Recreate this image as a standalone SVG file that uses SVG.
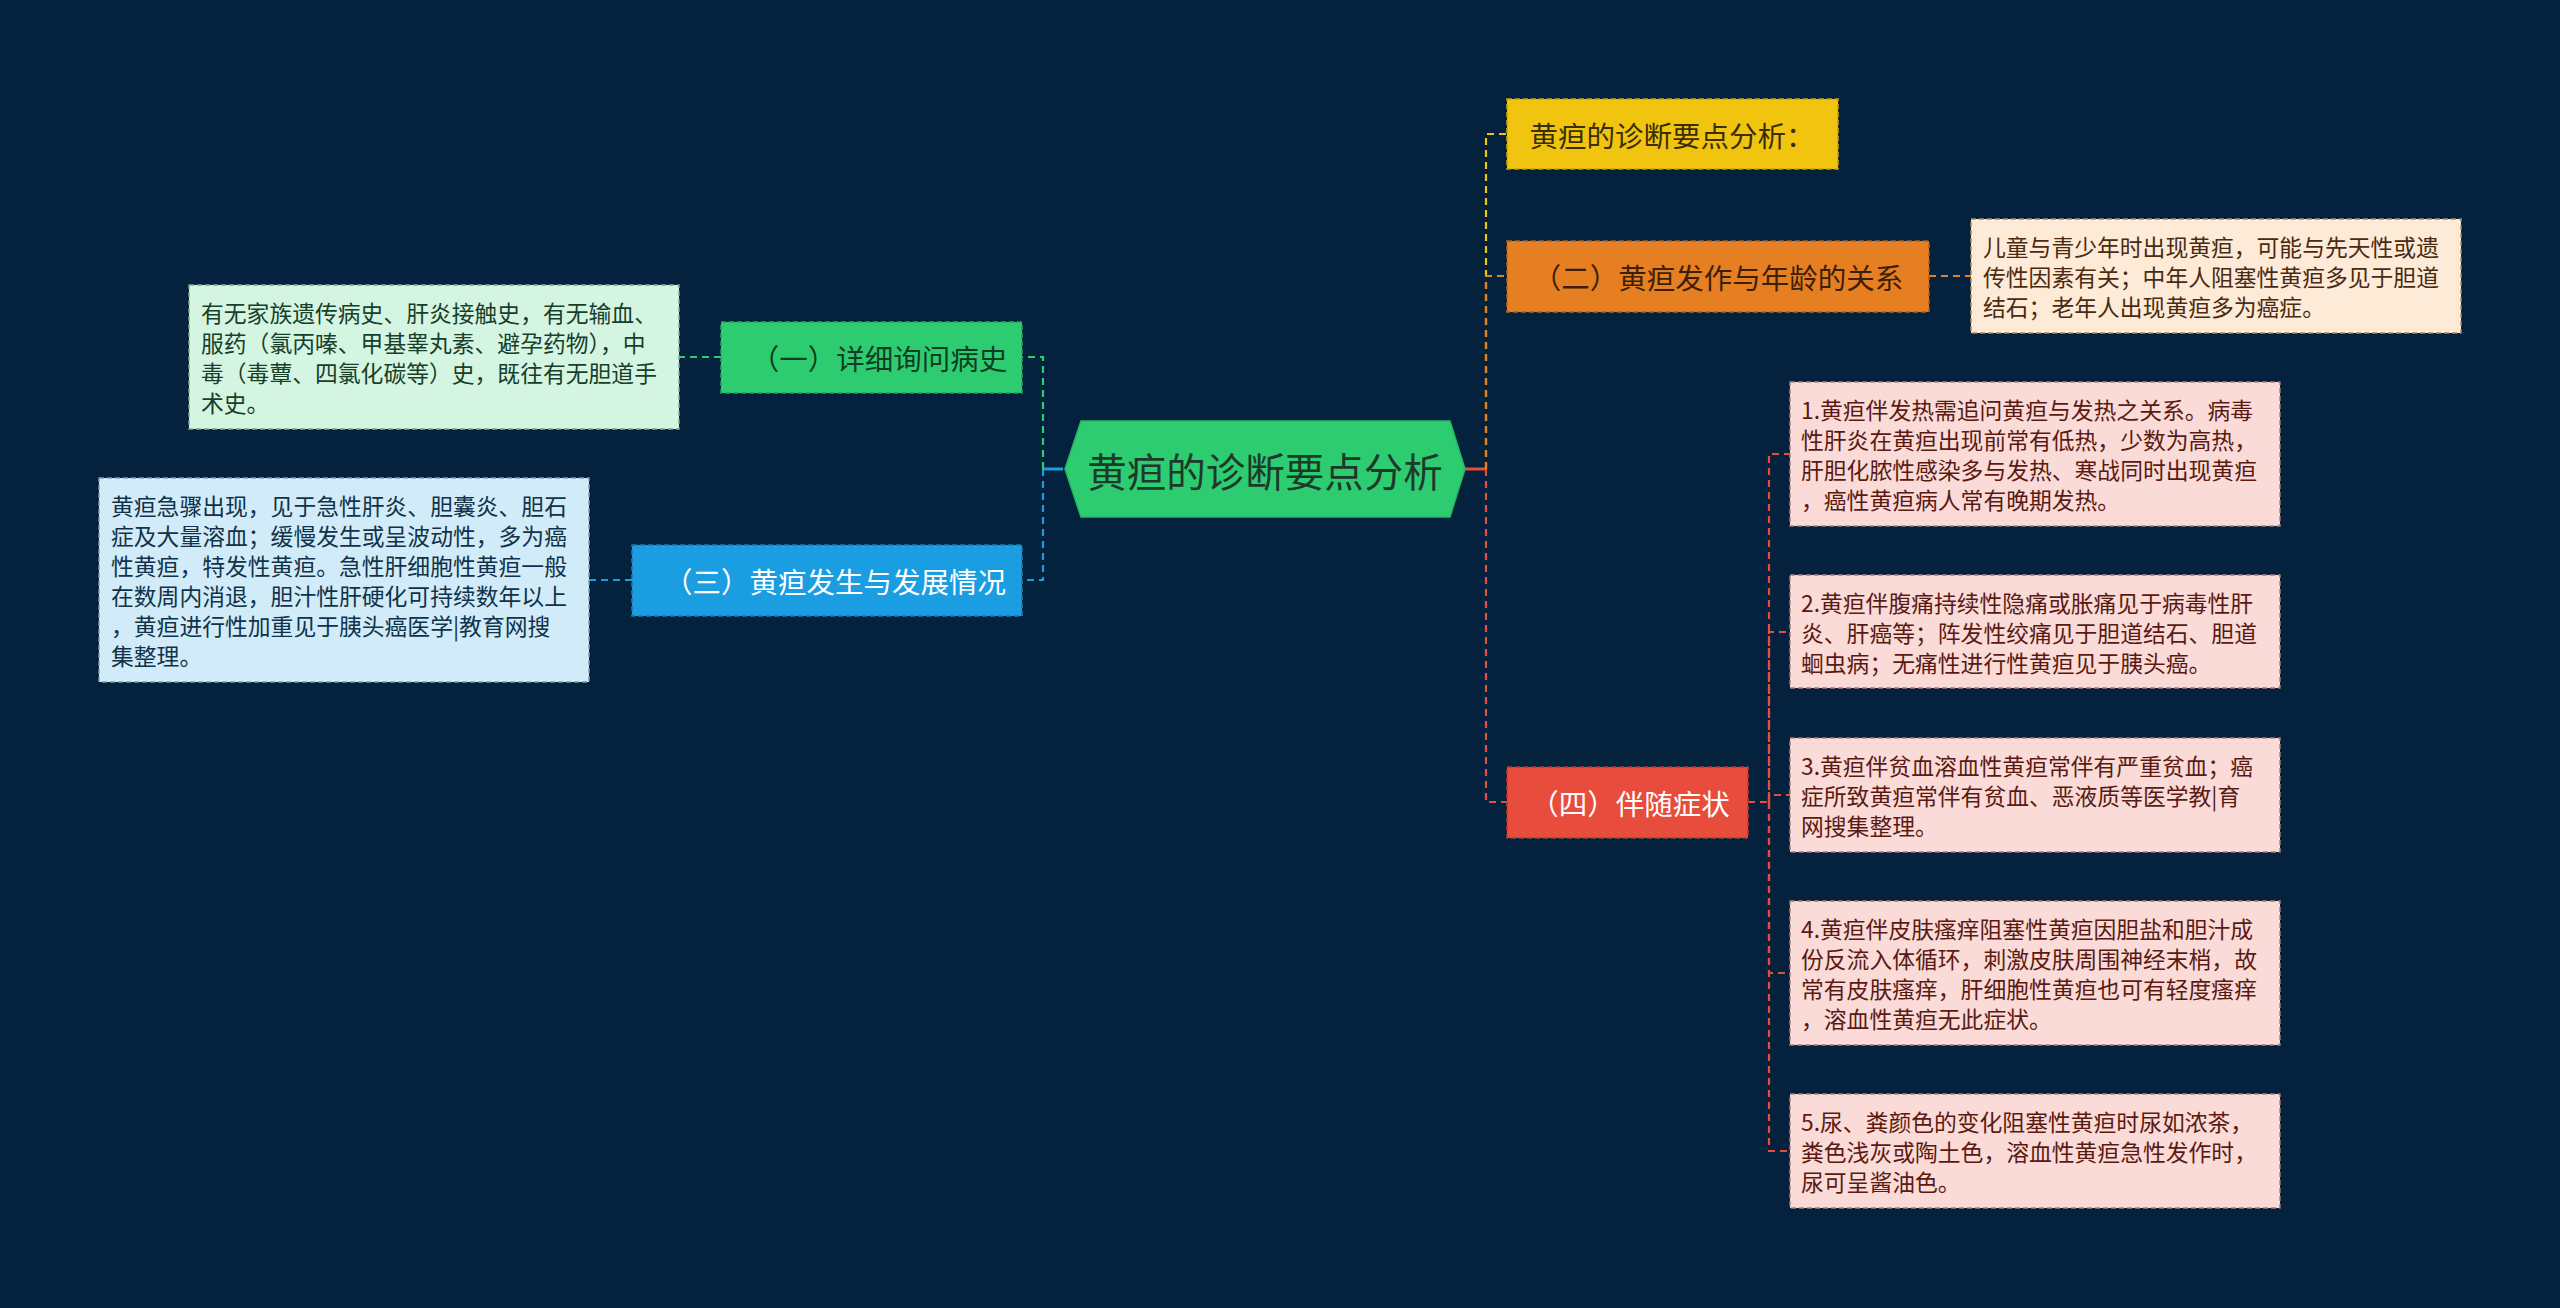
<svg xmlns="http://www.w3.org/2000/svg" width="2560" height="1308" viewBox="0 0 2560 1308">
<style>
text{font-family:"Noto Sans CJK SC","Noto Sans",sans-serif;}
.bg{fill:#04213d;}
.conn{fill:none;stroke-width:2.2;stroke-dasharray:7 5;}
.solid{fill:none;stroke-width:3;}
.nd{stroke-width:1.6;stroke-dasharray:5 3;}
.nt{font-size:28.5px;text-anchor:middle;dominant-baseline:central;}
.dt{font-size:22.8px;dominant-baseline:central;}
.det{stroke-width:1.4;stroke-dasharray:5 3;}
</style>
<rect class="bg" x="0" y="0" width="2560" height="1308"/>

<g id="connectors">
  <path class="solid" stroke="#e74c3c" d="M1465,469 H1486"/>
  <path class="solid" stroke="#1b9de2" d="M1063,469 H1043"/>
  <path class="conn" stroke="#f1c40f" d="M1486,469 V134 H1507"/>
  <path class="conn" stroke="#e67e22" d="M1486,469 V276 H1507"/>
  <path class="conn" stroke="#e74c3c" d="M1486,469 V802 H1507"/>
  <path class="conn" stroke="#2ecc71" d="M1043,469 V357 H1022"/>
  <path class="conn" stroke="#1b9de2" d="M1043,469 V580 H1022"/>
  <path class="conn" stroke="#2ecc71" d="M721,357 H679"/>
  <path class="conn" stroke="#1b9de2" d="M632,580 H589"/>
  <path class="conn" stroke="#e67e22" d="M1929,276 H1971"/>
  <path class="conn" stroke="#e74c3c" d="M1748,802 H1769 V454 H1790"/>
  <path class="conn" stroke="#e74c3c" d="M1769,802 V632 H1790"/>
  <path class="conn" stroke="#e74c3c" d="M1769,802 V795 H1790"/>
  <path class="conn" stroke="#e74c3c" d="M1769,802 V973 H1790"/>
  <path class="conn" stroke="#e74c3c" d="M1769,802 V1151 H1790"/>
</g>

<g id="root">
  <polygon points="1065,469 1081,421 1450,421 1465,469 1450,517 1081,517" fill="#2ecc71" stroke="#27b865" stroke-width="1.5"/>
  <text x="1265" y="469" font-size="39.5" text-anchor="middle" dominant-baseline="central" fill="#1c3a29">黄疸的诊断要点分析</text>
</g>

<g id="n-yellow">
  <rect class="nd" x="1507" y="99" width="331" height="70" fill="#f1c40f" stroke="#c9a10a"/>
  <text class="nt" x="1672" y="134" fill="#3a2e02">黄疸的诊断要点分析：</text>
</g>

<g id="n-orange">
  <rect class="nd" x="1507" y="241" width="422" height="71" fill="#e67e22" stroke="#b5621a"/>
  <text class="nt" x="1718" y="276.5" fill="#3d1f06">（二）黄疸发作与年龄的关系</text>
</g>

<g id="d-orange">
  <rect class="det" x="1971" y="219" width="490" height="114" fill="#fdebd8" stroke="#a88a6c"/>
  <text class="dt" fill="#4a2a10"><tspan x="1983" y="246">儿童与青少年时出现黄疸，可能与先天性或遗</tspan><tspan x="1983" y="276">传性因素有关；中年人阻塞性黄疸多见于胆道</tspan><tspan x="1983" y="306">结石；老年人出现黄疸多为癌症。</tspan></text>
</g>

<g id="n-red">
  <rect class="nd" x="1507" y="767" width="241" height="71" fill="#e74c3c" stroke="#b83a2e"/>
  <text class="nt" x="1630" y="802.5" fill="#ffffff">（四）伴随症状</text>
</g>

<g id="d-red1">
  <rect class="det" x="1790" y="382" width="490" height="144" fill="#fadbd8" stroke="#a87f7b"/>
  <text class="dt" fill="#5a1a12"><tspan x="1801" y="409">1.黄疸伴发热需追问黄疸与发热之关系。病毒</tspan><tspan x="1801" y="439">性肝炎在黄疸出现前常有低热，少数为高热，</tspan><tspan x="1801" y="469">肝胆化脓性感染多与发热、寒战同时出现黄疸</tspan><tspan x="1801" y="499">，癌性黄疸病人常有晚期发热。</tspan></text>
</g>

<g id="d-red2">
  <rect class="det" x="1790" y="575" width="490" height="113" fill="#fadbd8" stroke="#a87f7b"/>
  <text class="dt" fill="#5a1a12"><tspan x="1801" y="602">2.黄疸伴腹痛持续性隐痛或胀痛见于病毒性肝</tspan><tspan x="1801" y="632">炎、肝癌等；阵发性绞痛见于胆道结石、胆道</tspan><tspan x="1801" y="662">蛔虫病；无痛性进行性黄疸见于胰头癌。</tspan></text>
</g>

<g id="d-red3">
  <rect class="det" x="1790" y="738" width="490" height="114" fill="#fadbd8" stroke="#a87f7b"/>
  <text class="dt" fill="#5a1a12"><tspan x="1801" y="765">3.黄疸伴贫血溶血性黄疸常伴有严重贫血；癌</tspan><tspan x="1801" y="795">症所致黄疸常伴有贫血、恶液质等医学教|育</tspan><tspan x="1801" y="825">网搜集整理。</tspan></text>
</g>

<g id="d-red4">
  <rect class="det" x="1790" y="901" width="490" height="144" fill="#fadbd8" stroke="#a87f7b"/>
  <text class="dt" fill="#5a1a12"><tspan x="1801" y="928">4.黄疸伴皮肤瘙痒阻塞性黄疸因胆盐和胆汁成</tspan><tspan x="1801" y="958">份反流入体循环，刺激皮肤周围神经末梢，故</tspan><tspan x="1801" y="988">常有皮肤瘙痒，肝细胞性黄疸也可有轻度瘙痒</tspan><tspan x="1801" y="1018">，溶血性黄疸无此症状。</tspan></text>
</g>

<g id="d-red5">
  <rect class="det" x="1790" y="1094" width="490" height="114" fill="#fadbd8" stroke="#a87f7b"/>
  <text class="dt" fill="#5a1a12"><tspan x="1801" y="1121">5.尿、粪颜色的变化阻塞性黄疸时尿如浓茶，</tspan><tspan x="1801" y="1151">粪色浅灰或陶土色，溶血性黄疸急性发作时，</tspan><tspan x="1801" y="1181">尿可呈酱油色。</tspan></text>
</g>

<g id="n-green">
  <rect class="nd" x="721" y="322" width="301" height="71" fill="#2ecc71" stroke="#23a35a"/>
  <text class="nt" x="879" y="357.5" fill="#0f3d22">（一）详细询问病史</text>
</g>

<g id="d-green">
  <rect class="det" x="189" y="285" width="490" height="144" fill="#d5f5e3" stroke="#7fa890"/>
  <text class="dt" fill="#17402a"><tspan x="201" y="312">有无家族遗传病史、肝炎接触史，有无输血、</tspan><tspan x="201" y="342">服药（氯丙嗪、甲基睾丸素、避孕药物），中</tspan><tspan x="201" y="372">毒（毒蕈、四氯化碳等）史，既往有无胆道手</tspan><tspan x="201" y="402">术史。</tspan></text>
</g>

<g id="n-blue">
  <rect class="nd" x="632" y="545" width="390" height="71" fill="#1b9de2" stroke="#1479b0"/>
  <text class="nt" x="835" y="580.5" fill="#ffffff">（三）黄疸发生与发展情况</text>
</g>

<g id="d-blue">
  <rect class="det" x="99" y="478" width="490" height="204" fill="#d1ebf8" stroke="#7d9fb3"/>
  <text class="dt" fill="#10324a"><tspan x="111" y="505">黄疸急骤出现，见于急性肝炎、胆囊炎、胆石</tspan><tspan x="111" y="535">症及大量溶血；缓慢发生或呈波动性，多为癌</tspan><tspan x="111" y="565">性黄疸，特发性黄疸。急性肝细胞性黄疸一般</tspan><tspan x="111" y="595">在数周内消退，胆汁性肝硬化可持续数年以上</tspan><tspan x="111" y="625">，黄疸进行性加重见于胰头癌医学|教育网搜</tspan><tspan x="111" y="655">集整理。</tspan></text>
</g>
</svg>
